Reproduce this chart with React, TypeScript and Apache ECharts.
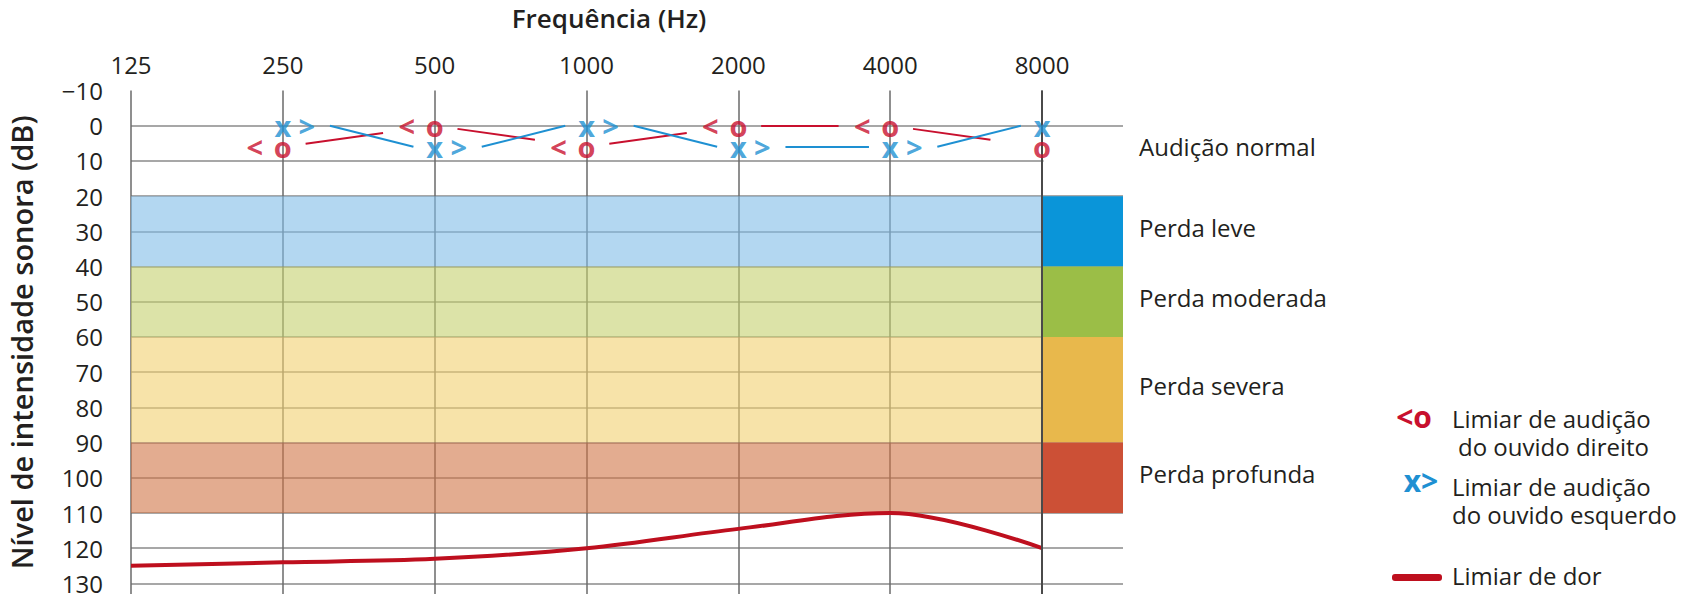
import React, { useEffect, useRef } from "react";
import * as echarts from "echarts";

// ---------- data ----------
const FREQ_LABELS = ["125", "250", "500", "1000", "2000", "4000", "8000"];
// hearing thresholds (dB) at each frequency; null = no mark
const RIGHT_EAR_DB: (number | null)[] = [null, 6, 0, 6, 0, 0, 6];
const LEFT_EAR_DB: (number | null)[] = [null, 0, 6, 0, 6, 6, 0];
// pain threshold (dB)
const PAIN_DB = [125, 124, 123, 120, 114.5, 110, 120];
// hearing-loss bands
const BAND_NAMES = ["Audição normal", "Perda leve", "Perda moderada", "Perda severa", "Perda profunda"];
const BAND_FROM = [-10, 20, 40, 60, 90];
const BAND_TO = [20, 40, 60, 90, 110];

// ---------- styles ----------
const FONT = "'Open Sans', 'Noto Sans', sans-serif";
const TEXT = "#231F20";
const RED = "#C8102E";
const BLUE = "#1E90D2";
const PAIN_RED = "#BE0F1E";
const BAND_LIGHT = [
  "rgba(0,0,0,0)",
  "rgba(128,188,232,0.6)",
  "rgba(197,208,110,0.6)",
  "rgba(242,208,112,0.6)",
  "rgba(208,117,70,0.6)",
];
const BAND_DARK = ["rgba(0,0,0,0)", "#0A95D9", "#9BBE47", "#E8B84C", "#CC5036"];
const X_MAX = 6.533;
const Y_MIN = -10;
const Y_MAX = 133;

const toPoints = (arr: (number | null)[]) =>
  arr.map((v, i) => (v == null ? null : [i, v])).filter((p) => p !== null) as number[][];

const withoutLast = (arr: (number | null)[]) =>
  toPoints(arr).filter((p) => p[0] < arr.length - 1);

function segments(arr: (number | null)[], t0: number, t1: number, collinear: boolean) {
  const out: any[] = [];
  for (let i = 0; i < arr.length - 1; i++) {
    const a = arr[i];
    const b = arr[i + 1];
    if (a == null || b == null) continue;
    const y0 = collinear ? a + (b - a) * t0 : a;
    const y1 = collinear ? a + (b - a) * t1 : b;
    out.push({ coords: [[i + t0, y0], [i + t1, y1]] });
  }
  return out;
}

function buildOption(): any {
  const last = FREQ_LABELS.length - 1;
  const areaData: any[] = [];
  BAND_NAMES.forEach((name, i) => {
    if (i > 0) {
      areaData.push([
        { xAxis: 0, yAxis: BAND_FROM[i], itemStyle: { color: BAND_LIGHT[i] } },
        { xAxis: last, yAxis: BAND_TO[i] },
      ]);
    }
    areaData.push([
      {
        name,
        xAxis: last,
        yAxis: BAND_FROM[i],
        itemStyle: { color: BAND_DARK[i] },
        label: { offset: i === 0 ? [0, 3] : [0, -4] },
      },
      { xAxis: X_MAX, yAxis: BAND_TO[i] },
    ]);
  });
  // hide the 10 dB grid line in the side column
  areaData.push([
    { xAxis: last + 0.01, yAxis: 2, itemStyle: { color: "#ffffff" } },
    { xAxis: X_MAX, yAxis: 18 },
  ]);

  const markLabel = (text: string, color: string, offset: number[]) => ({
    show: true,
    position: "inside",
    formatter: () => text,
    color,
    fontFamily: FONT,
    fontSize: 29,
    fontWeight: 700,
    lineHeight: 16,
    offset,
  });

  return {
    animation: false,
    backgroundColor: "#ffffff",
    textStyle: { fontFamily: FONT },
    grid: {
      left: 131,
      right: 1685 - 1123,
      top: 90.5,
      bottom: 0,
      containLabel: false,
      outerBoundsMode: "none",
    },
    xAxis: {
      type: "value",
      position: "top",
      min: 0,
      max: X_MAX,
      interval: 1,
      axisLine: { show: false },
      axisTick: { show: false },
      axisLabel: {
        margin: 14,
        color: TEXT,
        fontSize: 24,
        fontFamily: FONT,
        formatter: (v: number) => (Number.isInteger(v) && FREQ_LABELS[v] ? FREQ_LABELS[v] : ""),
      },
      splitLine: {
        show: true,
        showMinLine: true,
        showMaxLine: false,
        lineStyle: { color: "#6a6a6a", width: 1.5 },
      },
    },
    yAxis: {
      type: "value",
      inverse: true,
      min: Y_MIN,
      max: Y_MAX,
      interval: 10,
      name: "Nível de intensidade sonora (dB)",
      nameLocation: "middle",
      nameRotate: 90,
      nameGap: 95,
      nameTextStyle: { color: TEXT, fontSize: 29, fontWeight: 600, fontFamily: FONT },
      axisLine: { show: false },
      axisTick: { show: false },
      axisLabel: {
        margin: 28,
        color: TEXT,
        fontSize: 24,
        lineHeight: 16,
        fontFamily: FONT,
        formatter: (v: number) => (v > 130 ? "" : v < 0 ? "\u2212" + Math.abs(v) : String(v)),
      },
      splitLine: {
        show: true,
        showMinLine: false,
        showMaxLine: false,
        lineStyle: { color: "#8a8a8a", width: 1.5 },
      },
    },
    graphic: [
      {
        type: "text",
        x: 609,
        y: 18,
        style: { text: "Frequência (Hz)", fill: TEXT, font: `600 26px ${FONT}`, align: "center", verticalAlign: "middle" },
      },
      { type: "text", x: 1414, y: 416, style: { text: "<o", fill: RED, font: `700 30px ${FONT}`, align: "center", verticalAlign: "middle" } },
      { type: "text", x: 1452, y: 418, style: { text: "Limiar de audição", fill: TEXT, font: `24px ${FONT}`, verticalAlign: "middle" } },
      { type: "text", x: 1458, y: 446, style: { text: "do ouvido direito", fill: TEXT, font: `24px ${FONT}`, verticalAlign: "middle" } },
      { type: "text", x: 1421, y: 480, style: { text: "x>", fill: BLUE, font: `700 30px ${FONT}`, align: "center", verticalAlign: "middle" } },
      { type: "text", x: 1452, y: 486, style: { text: "Limiar de audição", fill: TEXT, font: `24px ${FONT}`, verticalAlign: "middle" } },
      { type: "text", x: 1452, y: 514, style: { text: "do ouvido esquerdo", fill: TEXT, font: `24px ${FONT}`, verticalAlign: "middle" } },
      { type: "rect", shape: { x: 1392, y: 574, width: 50, height: 7, r: 3 }, style: { fill: PAIN_RED } },
      { type: "text", x: 1452, y: 575, style: { text: "Limiar de dor", fill: TEXT, font: `24px ${FONT}`, verticalAlign: "middle" } },
    ],
    series: [
      {
        name: "Limiar de dor",
        type: "line",
        data: PAIN_DB.map((v, i) => [i, v]),
        smooth: 0.35,
        showSymbol: false,
        lineStyle: { color: PAIN_RED, width: 4 },
        z: 3,
        markArea: {
          silent: true,
          label: {
            show: true,
            position: "right",
            distance: 16,
            color: TEXT,
            fontSize: 24,
            fontFamily: FONT,
          },
          data: areaData,
        },
      },
      {
        type: "lines",
        coordinateSystem: "cartesian2d",
        silent: true,
        z: 4,
        lineStyle: { color: RED, width: 2, opacity: 1 },
        data: segments(RIGHT_EAR_DB, 0.15, 0.66, true),
      },
      {
        type: "lines",
        coordinateSystem: "cartesian2d",
        silent: true,
        z: 4,
        lineStyle: { color: BLUE, width: 2, opacity: 1 },
        data: segments(LEFT_EAR_DB, 0.31, 0.86, false),
      },
      {
        name: "Ouvido direito",
        type: "scatter",
        z: 5,
        symbolSize: 1,
        itemStyle: { color: "rgba(0,0,0,0)" },
        data: toPoints(RIGHT_EAR_DB),
        label: markLabel("o", RED, [0, 0]),
        markLine: {
          silent: true,
          symbol: "none",
          label: { show: false },
          lineStyle: { color: "#4a4a4a", width: 2, type: "solid" },
          data: [{ xAxis: last }],
        },
      },
      {
        type: "scatter",
        z: 5,
        symbolSize: 1,
        itemStyle: { color: "rgba(0,0,0,0)" },
        data: withoutLast(RIGHT_EAR_DB),
        label: markLabel("<", RED, [-28, 0]),
      },
      {
        name: "Ouvido esquerdo",
        type: "scatter",
        z: 5,
        symbolSize: 1,
        itemStyle: { color: "rgba(0,0,0,0)" },
        data: toPoints(LEFT_EAR_DB),
        label: markLabel("x", BLUE, [0, 0]),
      },
      {
        type: "scatter",
        z: 5,
        symbolSize: 1,
        itemStyle: { color: "rgba(0,0,0,0)" },
        data: withoutLast(LEFT_EAR_DB),
        label: markLabel(">", BLUE, [24, 0]),
      },
    ],
  };
}

export default function App() {
  const ref = useRef<HTMLDivElement>(null);
  useEffect(() => {
    if (!ref.current) return;
    const chart = echarts.init(ref.current, undefined, { renderer: "svg" });
    chart.setOption(buildOption());
    return () => chart.dispose();
  }, []);
  return (
    <div
      ref={ref}
      style={{ position: "fixed", left: 0, top: 0, width: 1685, height: 594, background: "#fff" }}
    />
  );
}
